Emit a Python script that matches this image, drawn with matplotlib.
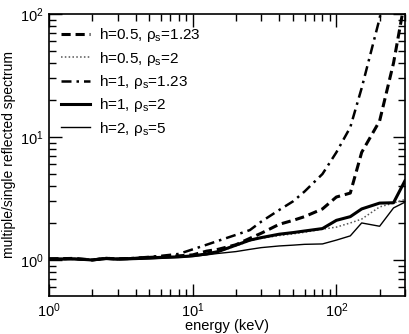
"""Ratio of multiple to single reflected spectrum vs energy."""

import matplotlib
matplotlib.use("Agg")
import matplotlib.pyplot as plt

plt.rcParams['font.family'] = ['Liberation Sans', 'DejaVu Sans']
plt.rcParams['mathtext.fontset'] = 'custom'
plt.rcParams['mathtext.rm'] = 'Liberation Sans'
plt.rcParams['mathtext.it'] = 'Liberation Sans:italic'

energy = [1, 1.5, 2, 2.5, 3, 4, 5, 6, 8, 10, 12.5, 15, 20, 25, 30,
          40, 50, 60, 80, 100, 125, 150, 200, 250, 300]

h05_rho123 = [1.02, 1.03, 1.0, 1.03, 1.02, 1.03, 1.05, 1.06, 1.08, 1.10, 1.18, 1.22,
              1.33, 1.5, 1.65, 1.95, 2.1, 2.25, 2.6, 3.25, 3.5, 7.5, 13.5, 40, 130]
h05_rho2 = [1.02, 1.02, 1.0, 1.03, 1.02, 1.03, 1.04, 1.05, 1.06, 1.08, 1.12, 1.16,
            1.3, 1.43, 1.5, 1.58, 1.63, 1.68, 1.78, 1.85, 2.0, 2.15, 2.7, 2.9, 3.1]
h1_rho123 = [1.02, 1.02, 1.0, 1.04, 1.02, 1.04, 1.06, 1.08, 1.12, 1.22, 1.33, 1.43,
             1.6, 1.75, 2.05, 2.55, 3.0, 3.6, 5.0, 7.5, 12, 25, 92, 400, 1000]
h1_rho2 = [1.02, 1.02, 1.0, 1.03, 1.02, 1.03, 1.04, 1.05, 1.06, 1.08, 1.12, 1.17,
           1.32, 1.45, 1.52, 1.62, 1.67, 1.72, 1.8, 2.1, 2.25, 2.6, 2.9, 2.92, 4.4]
h2_rho5 = [1.0, 1.01, 0.99, 1.01, 1.0, 1.01, 1.02, 1.03, 1.05, 1.07, 1.1, 1.13,
           1.17, 1.22, 1.26, 1.3, 1.32, 1.34, 1.35, 1.45, 1.57, 2.0, 1.88, 2.65, 2.95]

fig = plt.figure(figsize=(4.09, 3.34), dpi=100)
ax = fig.add_axes([0.12, 0.114, 0.87, 0.844])

ax.plot(energy, h05_rho123, color='black', lw=2.2, ls=(0, (3, 1.6)),
        label='h=0.5, ρ$_\\mathregular{s}$=1.23')
ax.plot(energy, h05_rho2, color='#555555', lw=1.1, ls=(0, (1, 1.5)),
        label='h=0.5, ρ$_\\mathregular{s}$=2')
ax.plot(energy, h1_rho123, color='black', lw=1.8, ls=(0, (4, 2, 1, 2)),
        label='h=1, ρ$_\\mathregular{s}$=1.23')
ax.plot(energy, h1_rho2, color='black', lw=2.2, label='h=1, ρ$_\\mathregular{s}$=2')
ax.plot(energy, h2_rho5, color='black', lw=1.0, label='h=2, ρ$_\\mathregular{s}$=5')

ax.set_xscale('log')
ax.set_yscale('log')
ax.set_xlim(1, 300)
ax.set_ylim(0.51, 100)
ax.set_xlabel('energy (keV)', fontsize=10.5, labelpad=-1)
ax.set_ylabel('multiple/single reflected spectrum', fontsize=10, labelpad=3)
ax.tick_params(which='both', direction='in', top=True, right=True, labelsize=10.5)
ax.tick_params(which='major', length=9, width=1, pad=4)
ax.tick_params(which='minor', length=5, width=1)
for s in ax.spines.values():
    s.set_linewidth(1.2)

ax.legend(loc='upper left', frameon=False, fontsize=11, handlelength=1.9,
          labelspacing=0.35, borderaxespad=0.4, handletextpad=0.55)

fig.savefig('out.png', dpi=100)
